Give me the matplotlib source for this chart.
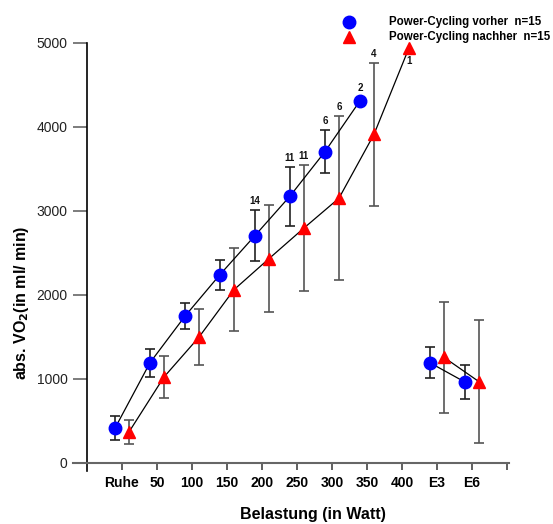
import numpy as np
import matplotlib
matplotlib.use("Agg")
import matplotlib.pyplot as plt
from matplotlib.lines import Line2D

# data
categories = ["Ruhe", "50", "100", "150", "200", "250", "300", "350", "400", "E3", "E6"]
blue_mean = [410, 1190, 1745, 2240, 2705, 3175, 3705, 4310, np.nan, 1190, 960]
blue_sd = [145, 165, 155, 180, 300, 350, 255, np.nan, np.nan, 185, 205]
red_mean = [365, 1020, 1495, 2060, 2430, 2795, 3150, 3910, 4940, 1255, 965]
red_sd = [145, 255, 335, 495, 640, 755, 975, 850, np.nan, 660, 735]
blue_n = {"200": 14, "250": 11, "300": 6, "350": 2}
red_n = {"250": 11, "300": 6, "350": 4}
red_n_below = {"400": 1}

plt.rcParams["font.family"] = ["Liberation Sans", "DejaVu Sans"]

fig = plt.figure(figsize=(5.53, 5.24), dpi=100)
ax = fig.add_axes([73 / 553, 1 - 471 / 524, (509 - 73) / 553, (471 - 43) / 524])

x = np.arange(len(categories))
xb = x - 0.2
xr = x + 0.2
bm = np.array(blue_mean, dtype=float)
bs = np.array(blue_sd, dtype=float)
rm = np.array(red_mean, dtype=float)
rs = np.array(red_sd, dtype=float)

ex = slice(0, 9)
rec = slice(9, 11)

# error bars
ax.errorbar(xb, bm, yerr=bs, fmt="none", ecolor="#222222", elinewidth=1.2,
            capsize=3.5, capthick=1.2, zorder=2)
ax.errorbar(xr, rm, yerr=rs, fmt="none", ecolor="#555555", elinewidth=1.2,
            capsize=3.5, capthick=1.2, zorder=2)

# connecting lines (exercise and recovery drawn separately)
for sl in (ex, rec):
    ax.plot(xb[sl], bm[sl], color="black", lw=0.9, zorder=3)
    ax.plot(xr[sl], rm[sl], color="black", lw=0.9, zorder=3)

# markers
ax.plot(xb, bm, "o", color="#0000ff", ms=9, mec="#0000ff", ls="none", zorder=4, clip_on=False)
ax.plot(xr, rm, "^", color="#ff0000", ms=8.5, mec="#ff0000", ls="none", zorder=4, clip_on=False)

# counts
cnt_font = dict(fontsize=7, fontweight="bold", ha="center", color="#111111")
for cat, n in blue_n.items():
    i = categories.index(cat)
    if np.isnan(bs[i]):
        top, off = bm[i], 6
    else:
        top, off = bm[i] + bs[i], 3
    ax.annotate(str(n), (xb[i], top), xytext=(0, off), textcoords="offset points",
                va="bottom", **cnt_font)
for cat, n in red_n.items():
    i = categories.index(cat)
    ax.annotate(str(n), (xr[i], rm[i] + rs[i]), xytext=(0, 3), textcoords="offset points",
                va="bottom", **cnt_font)
for cat, n in red_n_below.items():
    i = categories.index(cat)
    ax.annotate(str(n), (xr[i], rm[i]), xytext=(0, -6), textcoords="offset points",
                va="top", **cnt_font)

# axes styling
ax.set_xlim(-1.4, 11.06)
ax.set_ylim(-100, 5000)
ax.spines["top"].set_visible(False)
ax.spines["right"].set_visible(False)
ax.spines["left"].set_position(("data", -1))
ax.spines["bottom"].set_position(("data", 0))
ax.spines["left"].set_color("black")
ax.spines["bottom"].set_color("#666666")
ax.spines["left"].set_linewidth(1.2)
ax.spines["bottom"].set_linewidth(1.5)

ax.set_xticks(np.arange(len(categories) + 1))
ax.set_xticklabels(categories + [""], fontweight="bold", fontsize=10)
ax.tick_params(axis="x", direction="out", length=5, width=1.2, color="#444444", pad=5)
ax.set_yticks([0, 1000, 2000, 3000, 4000, 5000])
ax.tick_params(axis="y", direction="out", length=10, width=1.2, color="#666666",
               labelsize=10, labelcolor="#222222", pad=4)

fig.text(313 / 553, 1 - 515 / 524, "Belastung (in Watt)", ha="center", va="center",
         fontsize=11.5, fontweight="bold")
fig.text(22 / 553, 1 - 303 / 524, r"abs. VO$_\mathbf{2}$(in ml/ min)", ha="center", va="center",
         rotation=90, fontsize=11.5, fontweight="bold")

# legend
leg_font = dict(fontsize=8.3, fontweight="bold", va="center", ha="left")
fig.add_artist(Line2D([349 / 553], [1 - 22 / 524], transform=fig.transFigure, marker="o",
                      ms=9, color="#0000ff", ls="none"))
fig.add_artist(Line2D([349 / 553], [1 - 37 / 524], transform=fig.transFigure, marker="^",
                      ms=8.5, color="#ff0000", ls="none"))
fig.text(389 / 553, 1 - 22 / 524, "Power-Cycling vorher  n=15", **leg_font)
fig.text(389 / 553, 1 - 37 / 524, "Power-Cycling nachher  n=15", **leg_font)

fig.savefig("out.png", dpi=100)
